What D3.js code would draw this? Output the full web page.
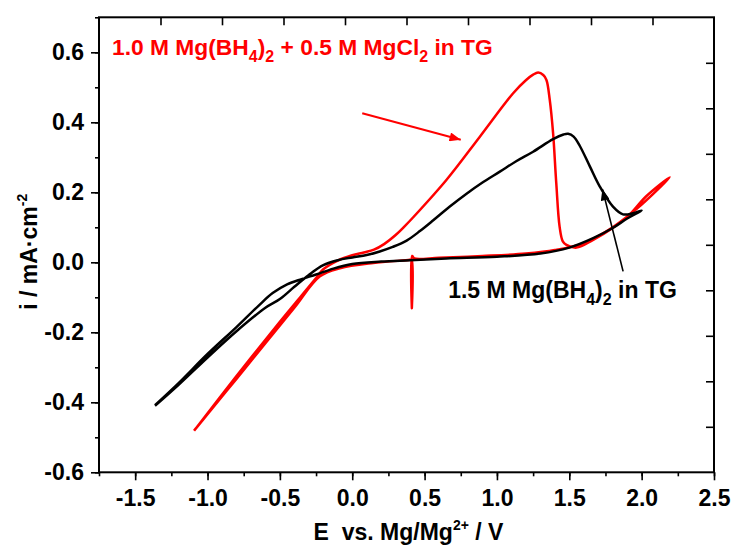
<!DOCTYPE html>
<html>
<head>
<meta charset="utf-8">
<script src="https://cdn.jsdelivr.net/npm/d3@7/dist/d3.min.js"></script>
<style>
  body { margin: 0; background: #fff; }
  svg text { font-family: "Liberation Sans", Arial, sans-serif; font-weight: bold; }
</style>
</head>
<body>
<div id="chart"></div>
<script>
// 1.5 M Mg(BH4)2 in TG  -- one CV loop, anodic sweep then back
var blackE = [-1.363, -1.2, -1.0, -0.8, -0.6, -0.5, -0.4, -0.3, -0.2, -0.1, 0.0, 0.1, 0.19, 0.28, 0.376, 0.47, 0.56, 0.67, 0.79, 0.9, 1.02, 1.13, 1.25, 1.388, 1.46, 1.492, 1.53, 1.572, 1.642, 1.71, 1.802, 1.871, 1.94, 2.0,
              1.9, 1.8, 1.665, 1.5, 1.3, 1.0, 0.65, 0.4, 0.2, 0.0, -0.13, -0.25, -0.35, -0.45, -0.55, -0.65, -0.8, -1.0, -1.2, -1.363];
var blackI = [-0.41, -0.35, -0.272, -0.197, -0.13, -0.105, -0.07, -0.036, -0.008, 0.006, 0.014, 0.021, 0.031, 0.044, 0.062, 0.09, 0.12, 0.158, 0.196, 0.228, 0.259, 0.288, 0.316, 0.352, 0.365, 0.367, 0.359, 0.333, 0.274, 0.217, 0.159, 0.137, 0.14, 0.148,
              0.125, 0.098, 0.069, 0.042, 0.025, 0.016, 0.011, 0.006, 0.002, -0.005, -0.018, -0.035, -0.048, -0.063, -0.088, -0.125, -0.185, -0.262, -0.345, -0.408];

// 1.0 M Mg(BH4)2 + 0.5 M MgCl2 in TG
var redE = [-1.093, -0.8, -0.5, -0.35, -0.25, -0.2, -0.1, 0.0, 0.08, 0.15, 0.22, 0.3, 0.36, 0.42, 0.652, 0.882, 1.112, 1.2, 1.25, 1.285, 1.32, 1.342, 1.365, 1.388, 1.41, 1.433, 1.455, 1.48, 1.55, 1.665, 1.8, 1.916, 2.03, 2.194,
            2.0, 1.8, 1.6, 1.4, 1.2, 0.9, 0.6, 0.43, 0.414, 0.412, 0.41, 0.398, 0.145, -0.085, -0.223, -0.4, -0.6, -0.8, -1.0, -1.093];
var redI = [-0.481, -0.325, -0.17, -0.095, -0.045, -0.02, 0.005, 0.02, 0.028, 0.036, 0.052, 0.078, 0.102, 0.128, 0.236, 0.359, 0.483, 0.52, 0.536, 0.542, 0.535, 0.521, 0.464, 0.369, 0.226, 0.102, 0.06, 0.05, 0.042, 0.064, 0.098, 0.136, 0.188, 0.243,
            0.165, 0.1, 0.055, 0.035, 0.025, 0.018, 0.013, 0.011, 0.018, -0.131, 0.008, 0.007, -0.002, -0.017, -0.04, -0.13, -0.231, -0.333, -0.434, -0.481];

var xTicks = [-1.5, -1.0, -0.5, 0.0, 0.5, 1.0, 1.5, 2.0, 2.5];
var yTicks = [-0.6, -0.4, -0.2, 0.0, 0.2, 0.4, 0.6];

// annotations, in data units
var redArrow = [[0.069, 0.426], [0.75, 0.35]];
var blackArrow = [[1.872, -0.026], [1.729, 0.209]];
var redLabelPos = [-1.66, 0.591];
var blackLabelPos = [0.663, -0.102];

var width = 731, height = 545,
    margin = {top: 17.3, right: 17, bottom: 72.7, left: 99},
    w = width - margin.left - margin.right,
    h = height - margin.top - margin.bottom;

var svg = d3.select('#chart').append('svg')
    .attr('width', width)
    .attr('height', height);

var g = svg.append('g')
    .attr('transform', 'translate(' + margin.left + ',' + margin.top + ')');

var x = d3.scaleLinear().domain([-1.75, 2.5]).range([0, w]);
var y = d3.scaleLinear().domain([-0.6, 0.7]).range([h, 0]);
// top and right axes in the original just split the frame in ten
var xTop = d3.scaleLinear().domain([0, 10]).range([0, w]);
var yRight = d3.scaleLinear().domain([0, 10]).range([h, 0]);

var fmt = function (d) { return d.toFixed(1); };

// minor ticks
g.append('g').attr('class', 'axis minor')
    .attr('transform', 'translate(0,' + h + ')')
    .call(d3.axisBottom(x).tickValues(d3.range(-1.75, 2.51, 0.25)).tickSize(4).tickFormat(''));
g.append('g').attr('class', 'axis minor')
    .call(d3.axisLeft(y).tickValues(d3.range(-0.6, 0.71, 0.1)).tickSize(4).tickFormat(''));

// major ticks
g.append('g').attr('class', 'axis major')
    .attr('transform', 'translate(0,' + h + ')')
    .call(d3.axisBottom(x).tickValues(xTicks).tickSize(8).tickPadding(9).tickFormat(fmt));
g.append('g').attr('class', 'axis major')
    .call(d3.axisLeft(y).tickValues(yTicks).tickSize(8).tickPadding(7).tickFormat(fmt));

g.append('g').attr('class', 'axis')
    .call(d3.axisTop(xTop).tickValues(d3.range(1, 10)).tickSize(-8).tickFormat(''));
g.append('g').attr('class', 'axis')
    .attr('transform', 'translate(' + w + ',0)')
    .call(d3.axisRight(yRight).tickValues(d3.range(1, 10)).tickSize(-8).tickFormat(''));

g.selectAll('.axis path.domain').remove();
g.selectAll('.axis line').attr('stroke', '#000').attr('stroke-width', 1.6);
g.selectAll('.axis text').attr('fill', '#000').style('font-size', '23px');

// frame
g.append('rect')
    .attr('width', w).attr('height', h)
    .attr('fill', 'none').attr('stroke', '#000').attr('stroke-width', 2);

// curves
var line = d3.line()
    .x(function (d) { return x(d[0]); })
    .y(function (d) { return y(d[1]); })
    .curve(d3.curveCatmullRom.alpha(0.5));

g.append('path')
    .datum(d3.zip(redE, redI))
    .attr('d', line)
    .attr('fill', 'none').attr('stroke', '#ff0000').attr('stroke-width', 2.5)
    .attr('stroke-linejoin', 'round');

g.append('path')
    .datum(d3.zip(blackE, blackI))
    .attr('d', line)
    .attr('fill', 'none').attr('stroke', '#000').attr('stroke-width', 2.5)
    .attr('stroke-linejoin', 'round');

// arrows
var defs = svg.append('defs');
[['head-red', '#ff0000'], ['head-black', '#000']].forEach(function (m) {
  defs.append('marker')
      .attr('id', m[0])
      .attr('viewBox', '0 0 10 8')
      .attr('refX', 10).attr('refY', 4)
      .attr('markerUnits', 'userSpaceOnUse')
      .attr('markerWidth', 12).attr('markerHeight', 9)
      .attr('orient', 'auto')
    .append('path')
      .attr('d', 'M0,0 L10,4 L0,8 Z')
      .attr('fill', m[1]);
});

g.append('line')
    .attr('x1', x(redArrow[0][0])).attr('y1', y(redArrow[0][1]))
    .attr('x2', x(redArrow[1][0])).attr('y2', y(redArrow[1][1]))
    .attr('stroke', '#ff0000').attr('stroke-width', 2)
    .attr('marker-end', 'url(#head-red)');

g.append('line')
    .attr('x1', x(blackArrow[0][0])).attr('y1', y(blackArrow[0][1]))
    .attr('x2', x(blackArrow[1][0])).attr('y2', y(blackArrow[1][1]))
    .attr('stroke', '#000').attr('stroke-width', 1.6)
    .attr('marker-end', 'url(#head-black)');

// labels with subscripts
var redLabel = g.append('text')
    .attr('x', x(redLabelPos[0])).attr('y', y(redLabelPos[1]))
    .attr('fill', '#ff0000').style('font-size', '22.8px');
redLabel.append('tspan').text('1.0 M Mg(BH');
redLabel.append('tspan').text('4').attr('dy', 7).style('font-size', '16px');
redLabel.append('tspan').text(')').attr('dy', -7);
redLabel.append('tspan').text('2').attr('dy', 7).style('font-size', '16px');
redLabel.append('tspan').text(' + 0.5 M MgCl').attr('dy', -7);
redLabel.append('tspan').text('2').attr('dy', 7).style('font-size', '16px');
redLabel.append('tspan').text(' in TG').attr('dy', -7);

var blackLabel = g.append('text')
    .attr('x', x(blackLabelPos[0])).attr('y', y(blackLabelPos[1]))
    .attr('fill', '#000').style('font-size', '23px');
blackLabel.append('tspan').text('1.5 M Mg(BH');
blackLabel.append('tspan').text('4').attr('dy', 7).style('font-size', '16px');
blackLabel.append('tspan').text(')').attr('dy', -7);
blackLabel.append('tspan').text('2').attr('dy', 7).style('font-size', '16px');
blackLabel.append('tspan').text(' in TG').attr('dy', -7);

// axis titles
var xTitle = svg.append('text')
    .attr('x', margin.left + w / 2 + 2).attr('y', 540)
    .attr('text-anchor', 'middle')
    .style('font-size', '23px')
    .style('white-space', 'pre');
xTitle.append('tspan').text('E  vs. Mg/Mg');
xTitle.append('tspan').text('2+').attr('dy', -10).style('font-size', '14px');
xTitle.append('tspan').text(' / V').attr('dy', 10);

var yTitle = svg.append('text')
    .attr('transform', 'translate(37,' + (margin.top + y(0.03)) + ') rotate(-90)')
    .attr('text-anchor', 'middle')
    .style('font-size', '23px');
yTitle.append('tspan').text('i / mA\u00b7cm');
yTitle.append('tspan').text('-2').attr('dy', -10).style('font-size', '14px');
</script>
</body>
</html>
